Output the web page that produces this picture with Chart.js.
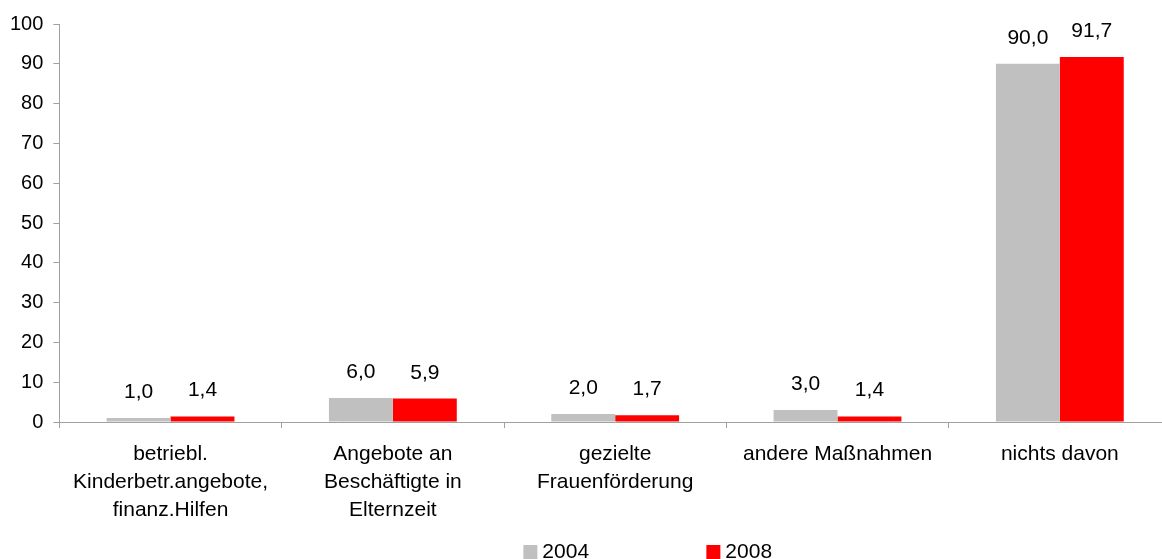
<!DOCTYPE html>
<html lang="de">
<head>
  <meta charset="UTF-8">
  <title>Maßnahmen 2004 / 2008</title>
  <script src="https://cdn.jsdelivr.net/npm/chart.js"></script>
  <style>
    html, body { margin: 0; padding: 0; background: #fff; overflow: hidden; }
    .wrap { position: relative; width: 1175px; height: 559px; }
  </style>
</head>
<body>
  <div class="wrap"><canvas id="chart"></canvas></div>

  <script>
    const categories = [
      ['betriebl.', 'Kinderbetr.angebote,', 'finanz.Hilfen'],
      ['Angebote an', 'Beschäftigte in', 'Elternzeit'],
      ['gezielte', 'Frauenförderung'],
      'andere Maßnahmen',
      'nichts davon'
    ];
    const years = ['2004', '2008'];
    const values2004 = [1.0, 6.0, 2.0, 3.0, 90.0];
    const values2008 = [1.4, 5.9, 1.7, 1.4, 91.7];
    const colors = ['#C0C0C0', '#FF0000'];

    const FONT = '"Liberation Sans", Arial, sans-serif';
    const AXIS = '#A0A0A0';
    const SIZE = 21;

    // value labels above each bar, German decimal comma
    const valueLabels = {
      id: 'valueLabels',
      afterDatasetsDraw(chart) {
        const ctx = chart.ctx;
        ctx.save();
        ctx.font = SIZE + 'px ' + FONT;
        ctx.fillStyle = '#000';
        ctx.textAlign = 'center';
        ctx.textBaseline = 'alphabetic';
        chart.data.datasets.forEach((ds, i) => {
          chart.getDatasetMeta(i).data.forEach((bar, j) => {
            ctx.fillText(ds.data[j].toFixed(1).replace('.', ','), bar.x, bar.y - 20);
          });
        });
        ctx.restore();
      }
    };

    // legend at the bottom with wide spacing
    const bottomLegend = {
      id: 'bottomLegend',
      afterDraw(chart) {
        const ctx = chart.ctx;
        const startX = chart.chartArea.left + 464;
        const step = 183;
        ctx.save();
        ctx.font = SIZE + 'px ' + FONT;
        ctx.textBaseline = 'alphabetic';
        ctx.textAlign = 'left';
        chart.data.datasets.forEach((ds, i) => {
          const x = startX + i * step;
          ctx.fillStyle = ds.backgroundColor;
          ctx.fillRect(x, 545, 14, 14);
          ctx.fillStyle = '#000';
          ctx.fillText(ds.label, x + 19, 558);
        });
        ctx.restore();
      }
    };

    const ctx = document.getElementById('chart').getContext('2d');
    new Chart(ctx, {
      type: 'bar',
      data: {
        labels: categories,
        datasets: [
          { label: years[0], data: values2004, backgroundColor: colors[0] },
          { label: years[1], data: values2008, backgroundColor: colors[1] }
        ]
      },
      options: {
        responsive: true,
        maintainAspectRatio: false,
        animation: false,
        categoryPercentage: 0.575,
        barPercentage: 1.0,
        layout: { padding: { top: 24, left: 0, right: 4, bottom: 23 } },
        plugins: {
          legend: { display: false },
          tooltip: { enabled: false }
        },
        scales: {
          x: {
            grid: { display: true, drawOnChartArea: false, drawTicks: true, tickLength: 6, color: AXIS, offset: true },
            border: { display: true, color: AXIS },
            ticks: {
              color: '#000',
              padding: 12,
              maxRotation: 0,
              autoSkip: false,
              font: { family: FONT, size: SIZE, lineHeight: 28 / SIZE }
            }
          },
          y: {
            min: 0,
            max: 100,
            grid: { display: true, drawOnChartArea: false, drawTicks: true, tickLength: 6, color: AXIS },
            border: { display: true, color: AXIS },
            ticks: {
              stepSize: 10,
              color: '#000',
              padding: 10,
              font: { family: FONT, size: 20 }
            }
          }
        }
      },
      plugins: [valueLabels, bottomLegend]
    });
  </script>
</body>
</html>
